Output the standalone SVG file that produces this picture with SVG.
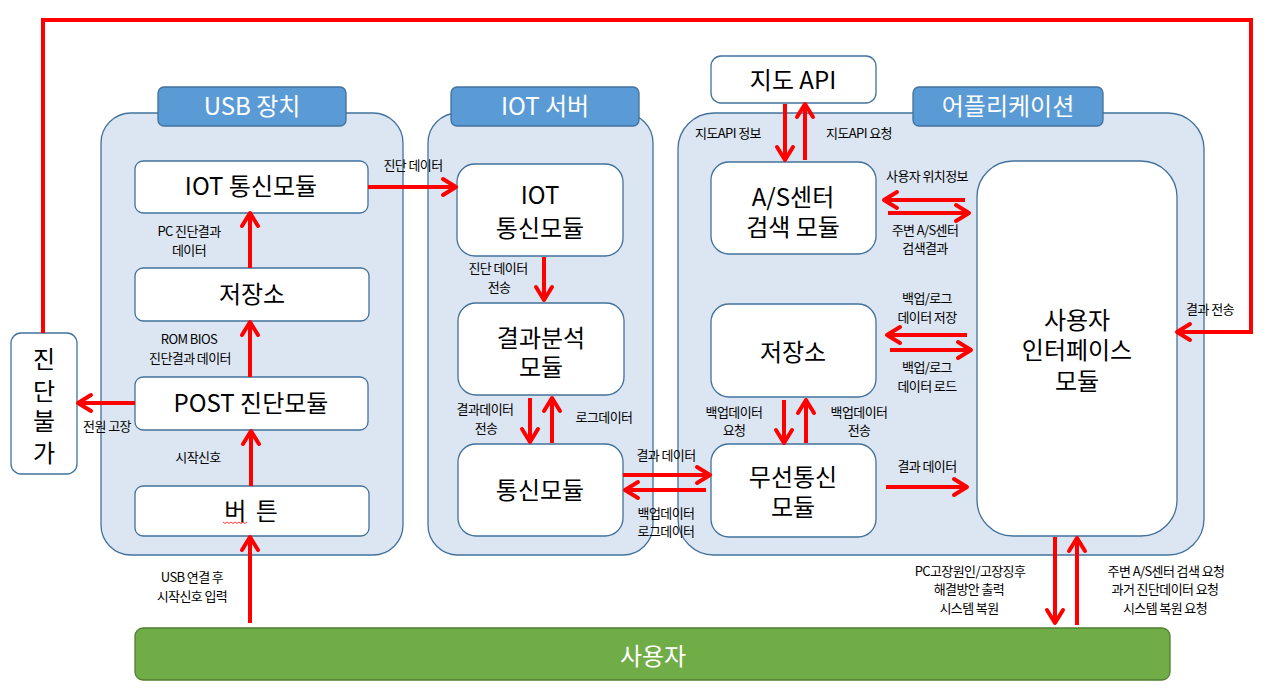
<svg xmlns="http://www.w3.org/2000/svg" width="1276" height="690" viewBox="0 0 1276 690">
<style>
.cont{fill:#dce6f2;stroke:#41719c;stroke-width:1.3}
.hdr{fill:#5b9bd5;stroke:#41719c;stroke-width:1.3}
.node{fill:#ffffff;stroke:#41719c;stroke-width:1.3}
.user{fill:#70ad47;stroke:#507e32;stroke-width:1.3}
.t{font-family:"Noto Sans CJK KR","Noto Sans",sans-serif;font-size:24px;fill:#000;text-anchor:middle}
.h{font-family:"Noto Sans CJK KR","Noto Sans",sans-serif;font-size:24px;fill:#fff;text-anchor:middle}
.l{font-family:"Noto Sans CJK KR","Noto Sans",sans-serif;font-size:13px;fill:#000;text-anchor:middle;letter-spacing:-0.6px}
.a{fill:none;stroke:#ff0000;stroke-width:4;marker-end:url(#arr)}
.w{fill:none;stroke:#ff0000;stroke-width:4}
</style>
<defs>
<marker id="arr" viewBox="-2 -2 20 22" markerWidth="20" markerHeight="22" refX="14" refY="9" orient="auto" markerUnits="userSpaceOnUse" overflow="visible">
<path d="M1,1 L14,9 L1,17" fill="none" stroke="#ff0000" stroke-width="4" stroke-linejoin="round" stroke-linecap="round"/>
</marker>
</defs>
<rect width="1276" height="690" fill="#ffffff"/>

<g id="usb-container">
<rect class="cont" x="101" y="113" width="302" height="442" rx="30"/>
<rect class="hdr" x="158" y="87" width="188" height="39" rx="6"/>
<text class="h" x="252" y="115">USB 장치</text>
</g>
<g id="iot-container">
<rect class="cont" x="428" y="113" width="225" height="442" rx="30"/>
<rect class="hdr" x="451" y="87" width="188" height="39" rx="6"/>
<text class="h" x="545" y="115">IOT 서버</text>
</g>
<g id="app-container">
<rect class="cont" x="678" y="113" width="526" height="442" rx="36"/>
<rect class="hdr" x="913" y="87" width="190" height="39" rx="6"/>
<text class="h" x="1008" y="115">어플리케이션</text>
</g>

<g id="usb-iot">
<rect class="node" x="135" y="161" width="233" height="52" rx="8"/>
<text class="t" x="251" y="195">IOT 통신모듈</text>
</g>
<g id="usb-storage">
<rect class="node" x="135" y="268" width="234" height="53" rx="8"/>
<text class="t" x="252" y="303">저장소</text>
</g>
<g id="usb-post">
<rect class="node" x="135" y="377" width="233" height="53" rx="8"/>
<text class="t" x="251" y="412">POST 진단모듈</text>
</g>
<g id="usb-button">
<rect class="node" x="135" y="486" width="234" height="50" rx="8"/>
<text class="t" x="252" y="520" letter-spacing="2">버 튼</text>
<path d="M223,522 l2,1.5 l2,-1.5 l2,1.5 l2,-1.5 l2,1.5 l2,-1.5 l2,1.5 l2,-1.5 l2,1.5 l2,-1.5 l2,1.5 l2,-1.5" fill="none" stroke="#ff0000" stroke-width="0.8"/>
</g>
<g id="no-diag">
<rect class="node" x="11" y="333" width="66" height="141" rx="10"/>
<text class="t" x="44" y="368">진</text>
<text class="t" x="44" y="400">단</text>
<text class="t" x="44" y="430">불</text>
<text class="t" x="44" y="462">가</text>
</g>

<g id="srv-iot">
<rect class="node" x="457" y="164" width="166" height="92" rx="18"/>
<text class="t" x="540" y="204">IOT</text>
<text class="t" x="540" y="237">통신모듈</text>
</g>
<g id="srv-analysis">
<rect class="node" x="458" y="303" width="166" height="92" rx="18"/>
<text class="t" x="541" y="347">결과분석</text>
<text class="t" x="541" y="376">모듈</text>
</g>
<g id="srv-comm">
<rect class="node" x="458" y="444" width="165" height="92" rx="18"/>
<text class="t" x="540" y="499">통신모듈</text>
</g>

<g id="map-api">
<rect class="node" x="711" y="56" width="165" height="47" rx="10"/>
<text class="t" x="793" y="89">지도 API</text>
</g>
<g id="as-search">
<rect class="node" x="711" y="162" width="165" height="92" rx="18"/>
<text class="t" x="793" y="206">A/S센터</text>
<text class="t" x="793" y="236">검색 모듈</text>
</g>
<g id="app-storage">
<rect class="node" x="711" y="304" width="165" height="93" rx="18"/>
<text class="t" x="793" y="361">저장소</text>
</g>
<g id="wireless">
<rect class="node" x="711" y="444" width="165" height="93" rx="18"/>
<text class="t" x="793" y="486">무선통신</text>
<text class="t" x="793" y="516">모듈</text>
</g>
<g id="ui-module">
<rect class="node" x="977" y="161" width="200" height="375" rx="36"/>
<text class="t" x="1077" y="329">사용자</text>
<text class="t" x="1077" y="359">인터페이스</text>
<text class="t" x="1077" y="390">모듈</text>
</g>

<g id="user">
<rect class="user" x="135" y="628" width="1035" height="52" rx="8"/>
<text class="h" x="653" y="665" font-size="22">사용자</text>
</g>

<g id="connectors">
<polyline class="a" points="43,333 43,20 1251,20 1251,332 1177,332"/>
<line class="a" x1="368" y1="187" x2="456" y2="187"/>
<line class="a" x1="250" y1="268" x2="250" y2="213"/>
<line class="a" x1="250" y1="377" x2="250" y2="322"/>
<line class="a" x1="251" y1="486" x2="251" y2="431"/>
<line class="a" x1="250" y1="623" x2="250" y2="537"/>
<line class="a" x1="135" y1="403" x2="78" y2="403"/>
<line class="a" x1="544" y1="257" x2="544" y2="300"/>
<line class="a" x1="530" y1="398" x2="530" y2="442"/>
<line class="a" x1="552" y1="443" x2="552" y2="398"/>
<line class="a" x1="623" y1="475" x2="710" y2="475"/>
<line class="a" x1="706" y1="490" x2="625" y2="490"/>
<line class="a" x1="785" y1="104" x2="785" y2="160"/>
<line class="a" x1="805" y1="160" x2="805" y2="104"/>
<line class="a" x1="965" y1="200" x2="884" y2="200"/>
<line class="a" x1="888" y1="213" x2="969" y2="213"/>
<line class="a" x1="967" y1="335" x2="887" y2="335"/>
<line class="a" x1="890" y1="350" x2="971" y2="350"/>
<line class="a" x1="784" y1="400" x2="784" y2="443"/>
<line class="a" x1="806" y1="443" x2="806" y2="400"/>
<line class="a" x1="886" y1="487" x2="967" y2="487"/>
<line class="a" x1="1055" y1="537" x2="1055" y2="623"/>
<line class="a" x1="1077" y1="625" x2="1077" y2="538"/>
</g>

<g id="labels">
<text class="l" x="1210" y="314">결과 전송</text>
<text class="l" x="413" y="170">진단 데이터</text>
<text class="l" x="189" y="236">PC 진단결과</text>
<text class="l" x="189" y="255">데이터</text>
<text class="l" x="189" y="344">ROM BIOS</text>
<text class="l" x="190" y="363">진단결과 데이터</text>
<text class="l" x="107" y="431">전원 고장</text>
<text class="l" x="198" y="462">시작신호</text>
<text class="l" x="192" y="582">USB 연결 후</text>
<text class="l" x="192" y="601">시작신호 입력</text>
<text class="l" x="498" y="273">진단 데이터</text>
<text class="l" x="499" y="292">전송</text>
<text class="l" x="485" y="414">결과데이터</text>
<text class="l" x="486" y="433">전송</text>
<text class="l" x="604" y="422">로그데이터</text>
<text class="l" x="666" y="460">결과 데이터</text>
<text class="l" x="666" y="518">백업데이터</text>
<text class="l" x="666" y="536">로그데이터</text>
<text class="l" x="728" y="138">지도API 정보</text>
<text class="l" x="859" y="138">지도API 요청</text>
<text class="l" x="927" y="181">사용자 위치정보</text>
<text class="l" x="925" y="235">주변 A/S센터</text>
<text class="l" x="925" y="253">검색결과</text>
<text class="l" x="927" y="303">백업/로그</text>
<text class="l" x="927" y="322">데이터 저장</text>
<text class="l" x="927" y="372">백업/로그</text>
<text class="l" x="927" y="391">데이터 로드</text>
<text class="l" x="734" y="417">백업데이터</text>
<text class="l" x="734" y="435">요청</text>
<text class="l" x="859" y="417">백업데이터</text>
<text class="l" x="859" y="435">전송</text>
<text class="l" x="927" y="471">결과 데이터</text>
<text class="l" x="970" y="576">PC고장원인/고장징후</text>
<text class="l" x="969" y="594">해결방안 출력</text>
<text class="l" x="969" y="613">시스템 복원</text>
<text class="l" x="1166" y="576">주변 A/S센터 검색 요청</text>
<text class="l" x="1165" y="594">과거 진단데이터 요청</text>
<text class="l" x="1165" y="613">시스템 복원 요청</text>
</g>
</svg>
